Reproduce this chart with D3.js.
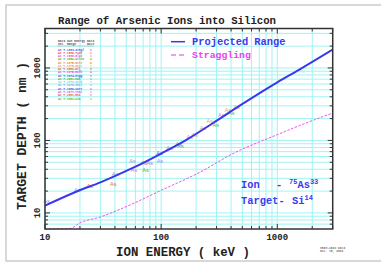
<!DOCTYPE html>
<html>
<head>
<meta charset="utf-8">
<script src="https://cdn.jsdelivr.net/npm/d3@7"></script>
<style>
  html, body { margin: 0; padding: 0; background: #fff; }
  svg text { font-family: "Liberation Mono", "Courier New", monospace; font-weight: bold; }
</style>
</head>
<body>
<div id="chart"></div>
<script>
// projected range curve (keV -> nm)
const rangeEnergy = [10, 19, 30, 57, 100, 165, 280, 475, 1000, 1550, 3000];
const rangeDepth = [12.6, 19.9, 26.4, 41.7, 66, 102, 174, 302, 633, 948, 1790];

// straggling curve
const stragEnergy = [10, 16.4, 20, 30, 57, 100, 215, 415, 1000, 1550, 3000];
const stragDepth = [6.0, 6.1, 7.3, 8.8, 13.4, 20.5, 36.3, 65.8, 120, 160, 239];

// measured points ("As" markers)
const pointEnergy = [10.3, 19, 24.4, 38.7, 40, 56.7, 58.5, 71.4, 73.4, 80, 97.6, 97, 118, 142, 147, 176, 195, 229, 262, 295, 330, 376, 402, 449, 1620];
const pointDepth = [14.4, 20.5, 23.8, 25.1, 34.8, 51.4, 38.7, 48.9, 39.6, 49, 51.4, 67.6, 79, 90, 83, 113, 120, 148, 187, 162, 226, 264, 239, 289, 918];
const pointColor = ["#8c9ad8", "#8c9ad8", "#f06060", "#f06060", "#8c9ad8", "#9aa0c8", "#d080e8", "#d08850", "#50b850",
  "#d070d0", "#9a90f0", "#6070f0", "#8c9ad8", "#909090", "#50b850", "#d080e8", "#f0a070", "#f0a070", "#f0a070",
  "#50b850", "#d080e8", "#f0a070", "#50b850", "#f0a070", "#b0f0f0"];

// data set table in upper left
const setNames = ["As T.1983-Ziegl", "As T.1980-Tsuk", "As T.1980-Glza", "As T.1982-Wilsn", "As T.1975-Hirv",
  "As T.1975-Gott", "As T.1983-Wil", "As T.1975-Hofk", "As T.1974-Higg", "As T.1981-Mak",
  "As T.1976-Grob", "As T.1976-Chri", "As T.1980-Carr", "As T.1977-Tsai", "As T.1981-Hsu", "As T.1983-Kim"];
const setNotes = ["1", "1", "1", "2", "6", "1", "3", "4", "1", "1", "1", "1", "1", "1", "1", "1"];
const setColors = ["#4050f0", "#f04040", "#e040e0", "#30b030", "#f08030", "#f0a060", "#f04040", "#e040e0",
  "#4050f0", "#30c030", "#60e0e0", "#8c9ad8", "#4050f0", "#e040e0", "#f04040", "#30c030"];

const xTickValues = [10, 100, 1000];
const yTickValues = [10, 100, 1000];

const W = 381, H = 263;
const svg = d3.select("#chart").append("svg")
    .attr("width", W)
    .attr("height", H);

// page frame
svg.append("rect")
    .attr("x", 6).attr("y", 5)
    .attr("width", 400).attr("height", 256)
    .attr("fill", "#fff")
    .attr("stroke", "#cfcfcf")
    .attr("stroke-width", 1.6);

const pL = 45, pR = 332.7, pT = 28.5, pB = 229;
const x = d3.scaleLog().domain([10, 3000]).range([pL, pR]);
const y = d3.scaleLog().domain([6, 3500]).range([pB, pT]);

// grid
const grid = svg.append("g");
grid.selectAll(".vg")
    .data(x.ticks())
    .join("line")
    .attr("x1", d => x(d)).attr("x2", d => x(d))
    .attr("y1", pT).attr("y2", pB)
    .attr("stroke", "#9ff4f4").attr("stroke-width", 1);
grid.selectAll(".hg")
    .data(y.ticks().filter(d => d > 6))
    .join("line")
    .attr("x1", pL).attr("x2", pR)
    .attr("y1", d => y(d)).attr("y2", d => y(d))
    .attr("stroke", "#9ff4f4").attr("stroke-width", 1);

// inward tick marks
const isMajor = d => Math.abs(Math.log10(d) - Math.round(Math.log10(d))) < 1e-6;
const ticks = svg.append("g").attr("stroke", "#333").attr("stroke-width", 1);
x.ticks().forEach(d => {
    const len = isMajor(d) ? 5 : 3;
    ticks.append("line").attr("x1", x(d)).attr("x2", x(d)).attr("y1", pB).attr("y2", pB - len);
    ticks.append("line").attr("x1", x(d)).attr("x2", x(d)).attr("y1", pT).attr("y2", pT + len);
});
y.ticks().filter(d => d > 6).forEach(d => {
    const len = isMajor(d) ? 5 : 3;
    ticks.append("line").attr("x1", pL).attr("x2", pL + len).attr("y1", y(d)).attr("y2", y(d));
    ticks.append("line").attr("x1", pR).attr("x2", pR - len).attr("y1", y(d)).attr("y2", y(d));
});

// data set table
const table = svg.append("g");
[["Data", "Set"], ["Ion Energy", "Range"], ["Data", "Note"]].forEach((h, i) => {
    h.forEach((t, j) => {
        table.append("text")
            .attr("x", [58, 67, 87][i]).attr("y", 42 + j * 3)
            .attr("font-size", 3).attr("fill", "#555")
            .text(t);
    });
});
table.append("line").attr("x1", 57).attr("x2", 94).attr("y1", 46).attr("y2", 46)
    .attr("stroke", "#999").attr("stroke-width", 0.4);
setNames.forEach((n, i) => {
    table.append("text")
        .attr("x", 58).attr("y", 50.5 + i * 3.27)
        .attr("font-size", 2.9).attr("fill", setColors[i])
        .text(n);
    table.append("text")
        .attr("x", 90).attr("y", 50.5 + i * 3.27)
        .attr("font-size", 2.9).attr("fill", setColors[i])
        .text(setNotes[i]);
});

// curves
const plot = svg.append("g");
plot.append("clipPath").attr("id", "clip")
    .append("rect").attr("x", pL).attr("y", pT - 1).attr("width", pR - pL).attr("height", pB - pT + 1);

const line = d3.line()
    .x(d => x(d[0]))
    .y(d => y(d[1]))
    .curve(d3.curveMonotoneX);

plot.append("path")
    .attr("d", line(d3.zip(stragEnergy, stragDepth)))
    .attr("fill", "none")
    .attr("stroke", "#f050f0")
    .attr("stroke-width", 1)
    .attr("stroke-dasharray", "2.5,1.5");

// markers
plot.selectAll(".pt")
    .data(d3.zip(pointEnergy, pointDepth, pointColor))
    .join("text")
    .attr("x", d => x(d[0]))
    .attr("y", d => y(d[1]) + 2)
    .attr("text-anchor", "middle")
    .attr("font-size", 5.6)
    .attr("fill", d => d[2])
    .style("font-family", "Liberation Sans, sans-serif")
    .style("font-weight", "normal")
    .text("As");

plot.append("path")
    .attr("d", line(d3.zip(rangeEnergy, rangeDepth)))
    .attr("clip-path", "url(#clip)")
    .attr("fill", "none")
    .attr("stroke", "#3838ee")
    .attr("stroke-width", 2);

// frame of plot
svg.append("rect")
    .attr("x", pL).attr("y", pT)
    .attr("width", pR - pL).attr("height", pB - pT)
    .attr("fill", "none")
    .attr("stroke", "#333")
    .attr("stroke-width", 1.5);

// tick labels
svg.selectAll(".xl")
    .data(xTickValues)
    .join("text")
    .attr("x", d => x(d)).attr("y", 239.5)
    .attr("text-anchor", "middle")
    .attr("font-size", 9)
    .attr("fill", "#222")
    .text(d => d);
svg.selectAll(".yl")
    .data(yTickValues)
    .join("text")
    .attr("transform", d => `translate(39.5,${y(d)}) rotate(-90)`)
    .attr("text-anchor", "middle")
    .attr("font-size", 9)
    .attr("fill", "#222")
    .text(d => d);

// titles
svg.append("text")
    .attr("x", 167).attr("y", 24)
    .attr("text-anchor", "middle")
    .attr("font-size", 10.7)
    .attr("fill", "#222")
    .text("Range of Arsenic Ions into Silicon");
svg.append("text")
    .attr("x", 183).attr("y", 256)
    .attr("text-anchor", "middle")
    .attr("font-size", 12.4)
    .attr("fill", "#222")
    .text("ION ENERGY ( keV )");
svg.append("text")
    .attr("transform", "translate(25.5,136) rotate(-90)")
    .attr("text-anchor", "middle")
    .attr("font-size", 13)
    .attr("fill", "#222")
    .text("TARGET DEPTH ( nm )");

// legend
svg.append("line")
    .attr("x1", 171).attr("x2", 185).attr("y1", 41.7).attr("y2", 41.7)
    .attr("stroke", "#3838ee").attr("stroke-width", 1.5);
svg.append("text")
    .attr("x", 192).attr("y", 45.2)
    .attr("font-size", 10.4).attr("fill", "#3a3af0")
    .text("Projected Range");
[171, 179].forEach(d => {
    svg.append("line")
        .attr("x1", d).attr("x2", d + 5).attr("y1", 55).attr("y2", 55)
        .attr("stroke", "#f050f0").attr("stroke-width", 1.2);
});
svg.append("text")
    .attr("x", 192).attr("y", 58.3)
    .attr("font-size", 9.8).attr("fill", "#f040f0")
    .text("Straggling");

// ion / target
const ion = svg.append("text").attr("x", 241).attr("y", 187.5).attr("font-size", 10.4).attr("fill", "#3a3af0");
ion.append("tspan").text("Ion");
ion.append("tspan").attr("x", 276).text("-");
ion.append("tspan").attr("x", 289).attr("dy", -4).attr("font-size", 7).text("75");
ion.append("tspan").attr("dy", 4).text("As");
ion.append("tspan").attr("dy", -4).attr("font-size", 7).text("33");

const tgt = svg.append("text").attr("x", 241).attr("y", 204).attr("font-size", 10.4).attr("fill", "#3a3af0");
tgt.append("tspan").text("Target-");
tgt.append("tspan").attr("x", 292).text("Si");
tgt.append("tspan").attr("dy", -4).attr("font-size", 7).text("14");

// footnote
svg.append("text").attr("x", 320).attr("y", 248.5).attr("font-size", 3).attr("fill", "#777").text("SRIM-2003 Data");
svg.append("text").attr("x", 320).attr("y", 252).attr("font-size", 3).attr("fill", "#777").text("Oct. 15, 2003");
</script>
</body>
</html>
